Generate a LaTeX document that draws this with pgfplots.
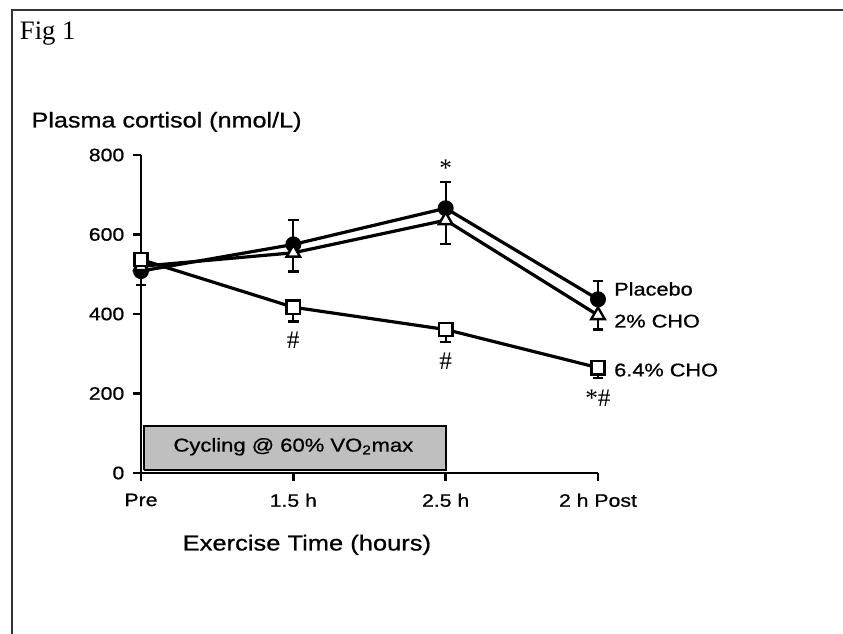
\documentclass[border=0pt]{standalone}
\usepackage{fontspec}
\setmainfont{Liberation Sans}[FakeStretch=1.18, FakeBold=0.8]
\newfontfamily\seriffont{Liberation Serif}
\usepackage{pgfplots}
\pgfplotsset{compat=1.18}
\begin{document}
\begin{tikzpicture}
\begin{axis}[
  scale only axis,
  width=342.75pt, height=238.5pt,
  xmin=0, xmax=3, ymin=0, ymax=800,
  axis lines=left,
  axis line style={line width=2.2pt, -},
  xtick={0,1,2,3},
  xticklabels={Pre,1.5 h,2.5 h,2 h Post},
  ytick={0,200,400,600,800},
  tick align=outside,
  major tick length=6pt,
  every tick/.style={line width=2.2pt, black},
  /pgf/number format/assume math mode=true,
  ticklabel style={font=\fontsize{13.5}{16}\selectfont},
  xticklabel style={yshift=-6pt},
  yticklabel style={xshift=-3pt},
  clip=false,
  xlabel={Exercise Time (hours)},
  ylabel={Plasma cortisol (nmol/L)},
  every axis x label/.style={at={(axis description cs:0.363,-0.226)}, anchor=center, font=\fontsize{16.2}{18}\selectfont},
  every axis y label/.style={at={(axis description cs:-0.24,1.104)}, anchor=west, inner sep=0pt, rotate=0, font=\fontsize{16}{18}\selectfont},
]
% cycling box
\addplot[fill=gray!50, draw=black, line width=1.3pt] coordinates {(0.02,8) (2,8) (2,118) (0.02,118) (0.02,8)};
\node[font=\fontsize{14}{16}\selectfont] at (axis cs:1,66) {Cycling @ 60\% VO\textsubscript{2}max};

% Placebo
\addplot[black, line width=2.4pt, mark=*, mark size=5.5pt, mark options={fill=black, line width=1pt},
  error bars/.cd, y dir=both, y explicit,
  error bar style={line width=1.6pt},
  error mark options={rotate=90, mark size=4pt, line width=1.6pt}]
  coordinates {(0,508) += (0,0) -= (0,36) (1,575) += (0,61) -= (0,0) (2,666) += (0,65) -= (0,0) (3,437) += (0,47) -= (0,0)};
% 2% CHO
\addplot[black, line width=2.4pt, mark=triangle*, mark size=5.8pt, mark options={fill=white, line width=1.8pt},
  error bars/.cd, y dir=both, y explicit,
  error bar style={line width=1.6pt},
  error mark options={rotate=90, mark size=4pt, line width=1.6pt}]
  coordinates {(0,520) += (0,0) -= (0,0) (1,554) += (0,0) -= (0,47) (2,636) += (0,0) -= (0,60) (3,397) += (0,0) -= (0,36)};
% 6.4% CHO
\addplot[black, line width=2.4pt, mark=square*, mark size=5pt, mark options={fill=white, line width=1.8pt},
  error bars/.cd, y dir=both, y explicit,
  error bar style={line width=1.6pt},
  error mark options={rotate=90, mark size=4pt, line width=1.6pt}]
  coordinates {(0,537) += (0,0) -= (0,0) (1,417) += (0,0) -= (0,36) (2,361) += (0,0) -= (0,31) (3,265) += (0,0) -= (0,27)};

\node[anchor=west, inner sep=0pt, font=\fontsize{13.8}{16}\selectfont] at (axis cs:3,463) [xshift=12pt] {Placebo};
\node[anchor=west, inner sep=0pt, font=\fontsize{13.8}{16}\selectfont] at (axis cs:3,382) [xshift=12pt] {2\% CHO};
\node[anchor=west, inner sep=0pt, font=\fontsize{13.8}{16}\selectfont] at (axis cs:3,259) [xshift=12pt] {6.4\% CHO};

\node[font=\seriffont\fontsize{19}{21}\selectfont] at (axis cs:2,766) {*};
\node[font=\seriffont\fontsize{19}{21}\selectfont] at (axis cs:1,333) {\#};
\node[font=\seriffont\fontsize{19}{21}\selectfont] at (axis cs:2,280) {\#};
\node[font=\seriffont\fontsize{19}{21}\selectfont] at (axis cs:3,187) {*\#};
\end{axis}
% frame
\draw[line width=1.6pt, black!80] (-96.75pt,-120.75pt) -- (-96.75pt,347.25pt) -- (526.5pt,347.25pt);
\node[anchor=base west, inner sep=0pt, font=\seriffont\fontsize{20}{22}\selectfont] at (-91pt,324.75pt) {Fig 1};
\pgfresetboundingbox
\path[use as bounding box] (-105.75pt,-120.75pt) rectangle (526.5pt,354.75pt);
\end{tikzpicture}
\end{document}
